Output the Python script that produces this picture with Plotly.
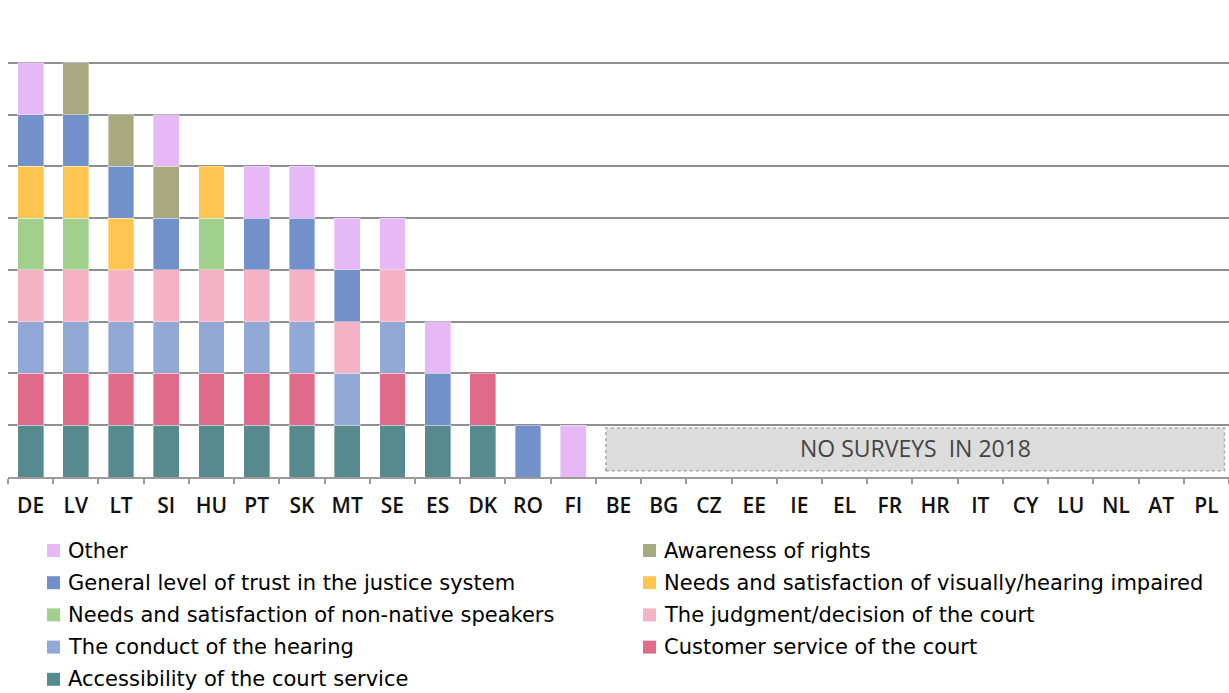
import plotly.graph_objects as go

countries = ["DE", "LV", "LT", "SI", "HU", "PT", "SK", "MT", "SE", "ES", "DK", "RO", "FI",
             "BE", "BG", "CZ", "EE", "IE", "EL", "FR", "HR", "IT", "CY", "LU", "NL", "AT", "PL"]

# Survey topics covered per country (1 = covered), listed from the bottom of the stack up
accessibility = [1, 1, 1, 1, 1, 1, 1, 1, 1, 1, 1, 0, 0] + [0] * 14
customer_service = [1, 1, 1, 1, 1, 1, 1, 0, 1, 0, 1, 0, 0] + [0] * 14
conduct_hearing = [1, 1, 1, 1, 1, 1, 1, 1, 1, 0, 0, 0, 0] + [0] * 14
judgment = [1, 1, 1, 1, 1, 1, 1, 1, 1, 0, 0, 0, 0] + [0] * 14
non_native = [1, 1, 0, 0, 1, 0, 0, 0, 0, 0, 0, 0, 0] + [0] * 14
impaired = [1, 1, 1, 0, 1, 0, 0, 0, 0, 0, 0, 0, 0] + [0] * 14
trust = [1, 1, 1, 1, 0, 1, 1, 1, 0, 1, 0, 1, 0] + [0] * 14
awareness = [0, 1, 1, 1, 0, 0, 0, 0, 0, 0, 0, 0, 0] + [0] * 14
other = [1, 0, 0, 1, 0, 1, 1, 1, 1, 1, 0, 0, 1] + [0] * 14

series = [
    ("Accessibility of the court service", accessibility, "#578a8f"),
    ("Customer service of the court", customer_service, "#e06a8a"),
    ("The conduct of the hearing", conduct_hearing, "#93a9d5"),
    ("The judgment/decision of the court", judgment, "#f5b2c5"),
    ("Needs and satisfaction of non-native speakers", non_native, "#a1cf8c"),
    ("Needs and satisfaction of visually/hearing impaired", impaired, "#ffc550"),
    ("General level of trust in the justice system", trust, "#7290c9"),
    ("Awareness of rights", awareness, "#a8a981"),
    ("Other", other, "#e6b9f6"),
]

W, H = 1229, 693
M_L, M_R, M_T, M_B = 8, 0, 11, 216
PW, PH = W - M_L - M_R, H - M_T - M_B


def px_to_paper(px, py):
    return (px - M_L) / PW, (H - M_B - py) / PH


TICK_FONT = "Open Sans"
LEGEND_FONT = "DejaVu Sans"

fig = go.Figure()
for name, vals, color in series:
    fig.add_trace(go.Bar(
        x=countries,
        y=[v if v else None for v in vals],
        name=name,
        showlegend=False,
        marker=dict(color=color, line=dict(color="rgba(255,255,255,0.6)", width=0.6)),
    ))

# Countries without a survey in 2018
fig.add_shape(type="rect", xref="x", yref="y", x0=12.72, x1=26.4, y0=0.12, y1=0.945,
              fillcolor="#dcdcdc", line=dict(color="#a8a8a8", width=1.5, dash="dot"),
              layer="above")
fig.add_annotation(x=19.56, y=0.56, xref="x", yref="y", text="NO SURVEYS  IN 2018",
                   showarrow=False,
                   font=dict(family=TICK_FONT, size=23, color="#444444"))

# Two-column legend below the axis, top of the stack first
col_px = [(47, 66), (643, 662)]
row0_py, row_step = 550.5, 32.2
sw = 13
for i, (name, _, color) in enumerate(reversed(series)):
    (sx, tx) = col_px[i % 2]
    cy = row0_py + row_step * (i // 2)
    x0, y0 = px_to_paper(sx, cy + sw / 2)
    x1, y1 = px_to_paper(sx + sw, cy - sw / 2)
    fig.add_shape(type="rect", xref="paper", yref="paper", x0=x0, x1=x1, y0=y0, y1=y1,
                  fillcolor=color, line=dict(width=0))
    ax, ay = px_to_paper(tx, cy)
    fig.add_annotation(xref="paper", yref="paper", x=ax, y=ay, xanchor="left", yanchor="middle",
                       text=name, showarrow=False,
                       font=dict(family=LEGEND_FONT, size=21, color="black"))

fig.update_layout(
    barmode="stack",
    bargap=0.43,
    width=W, height=H,
    margin=dict(l=M_L, r=M_R, t=M_T, b=M_B, autoexpand=False),
    plot_bgcolor="white", paper_bgcolor="white",
    font=dict(family=TICK_FONT, size=21, color="black"),
    showlegend=False,
    xaxis=dict(
        type="category", showline=True, linecolor="#9a9a9a", linewidth=1.5,
        ticks="outside", tickson="boundaries", ticklen=5, tickcolor="#9a9a9a", tickwidth=1.5,
        ticklabelstandoff=9,
        showgrid=False, tickfont=dict(family=TICK_FONT, size=21, color="#111111", weight=600),
        range=[-0.5, 26.5],
    ),
    yaxis=dict(
        range=[0, 9], dtick=1, showticklabels=False, showgrid=True,
        gridcolor="#8f8f8f", gridwidth=2, zeroline=False, showline=False,
    ),
)

fig.write_html("out.html")
